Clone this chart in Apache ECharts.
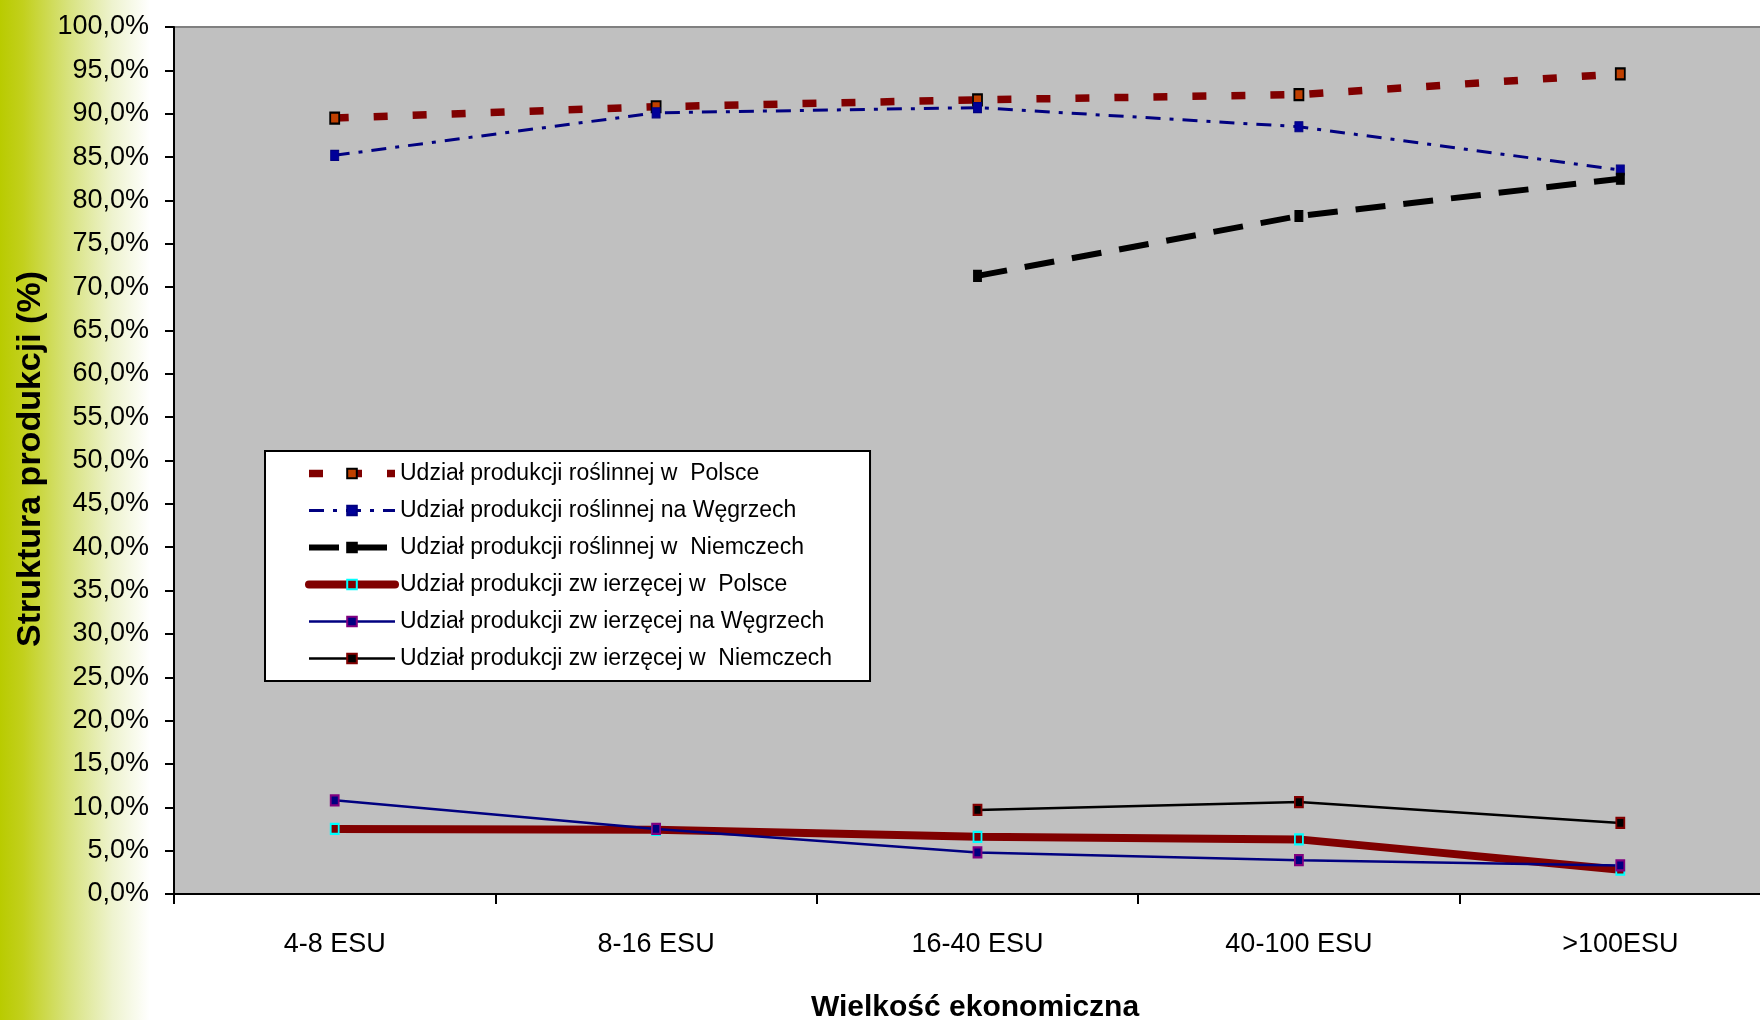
<!DOCTYPE html>
<html>
<head>
<meta charset="utf-8">
<script src="https://cdn.jsdelivr.net/npm/echarts@6/dist/echarts.min.js"></script>
<style>
html,body{margin:0;padding:0;background:#fff;overflow:hidden;width:1760px;height:1020px;}
#c{width:1781px;height:1020px;}
</style>
</head>
<body>
<div id="c"></div>
<script>
const categories = ['4-8 ESU', '8-16 ESU', '16-40 ESU', '40-100 ESU', '>100ESU'];
const plPlant = [89.5, 90.8, 91.6, 92.2, 94.6];
const huPlant = [85.2, 90.1, 90.7, 88.5, 83.5];
const dePlant = [null, null, 71.3, 78.2, 82.5];
const plAnimal = [7.5, 7.4, 6.6, 6.3, 2.8];
const huAnimal = [10.8, 7.5, 4.8, 3.9, 3.3];
const deAnimal = [null, null, 9.7, 10.6, 8.2];
const seriesNames = [
  'Udział produkcji roślinnej w  Polsce',
  'Udział produkcji roślinnej na Węgrzech',
  'Udział produkcji roślinnej w  Niemczech',
  'Udział produkcji zw ierzęcej w  Polsce',
  'Udział produkcji zw ierzęcej na Węgrzech',
  'Udział produkcji zw ierzęcej w  Niemczech'
];
const yTitle = 'Struktura produkcji (%)';
const xTitle = 'Wielkość ekonomiczna';

const FONT = 'Liberation Sans, Arial, sans-serif';
const chart = echarts.init(document.getElementById('c'), null, {renderer: 'canvas'});

function mk(name, data, line, sym) {
  return {
    name: name, type: 'line', data: data,
    symbol: 'rect', symbolSize: sym.size,
    showSymbol: true,
    itemStyle: {color: sym.fill, borderColor: sym.border, borderWidth: sym.bw},
    lineStyle: line,
    emphasis: {disabled: true},
    connectNulls: false
  };
}

chart.setOption({
  animation: false,
  graphic: [
    {
      type: 'rect', z: -10, silent: true,
      shape: {x: 0, y: 0, width: 150, height: 1020},
      style: {
        fill: new echarts.graphic.LinearGradient(0, 0, 1, 0, [
          {offset: 0, color: '#B9CB00'},
          {offset: 0.15, color: '#C2D01C'},
          {offset: 0.45, color: '#D7E27C'},
          {offset: 0.75, color: '#EEF3CF'},
          {offset: 1, color: '#FFFFFF'}
        ])
      }
    },
    {
      type: 'text', x: 31, y: 459, rotation: Math.PI / 2, z: 10,
      style: {
        text: yTitle, fill: '#000',
        font: 'bold 34px ' + FONT,
        align: 'center', verticalAlign: 'middle',
        textAlign: 'center', textVerticalAlign: 'middle'
      }
    },
    {
      type: 'text', x: 975, y: 1008, z: 10,
      style: {
        text: xTitle, fill: '#000',
        font: 'bold 30px ' + FONT,
        align: 'center', verticalAlign: 'middle',
        textAlign: 'center', textVerticalAlign: 'middle'
      }
    }
  ],
  grid: {
    left: 174, top: 27, right: 0, bottom: 126,
    show: true, backgroundColor: '#C0C0C0', borderColor: '#808080', borderWidth: 2,
    containLabel: false
  },
  legend: {
    orient: 'vertical', left: 265, top: 451,
    backgroundColor: '#FFFFFF', borderColor: '#000', borderWidth: 2, borderRadius: 0,
    padding: [10, 38, 10, 40],
    itemWidth: 86, itemHeight: 12, itemGap: 12,
    itemTextGap: 5,
    selectedMode: false,
    lineStyle: {width: 'inherit'},
    textStyle: {fontFamily: FONT, fontSize: 23, color: '#000', lineHeight: 25},
    data: seriesNames
  },
  xAxis: {
    type: 'category', data: categories, boundaryGap: true,
    axisLine: {show: true, lineStyle: {color: '#000', width: 2}},
    axisTick: {show: true, length: 10, lineStyle: {color: '#000', width: 2}},
    axisLabel: {fontFamily: FONT, fontSize: 27, color: '#000', margin: 37},
    splitLine: {show: false}
  },
  yAxis: {
    type: 'value', min: 0, max: 100, interval: 5,
    axisLine: {show: true, lineStyle: {color: '#000', width: 2}},
    axisTick: {show: true, length: 9, lineStyle: {color: '#000', width: 2}},
    axisLabel: {
      fontFamily: FONT, fontSize: 27, color: '#000', margin: 25,
      formatter: function (v) { return v.toFixed(1).replace('.', ',') + '%'; }
    },
    splitLine: {show: false}
  },
  series: [
    mk(seriesNames[0], plPlant, {color: '#800000', width: 7.5, type: [14, 25], cap: 'butt'},
       {size: [9, 11], fill: '#C04000', border: '#000000', bw: 2}),
    mk(seriesNames[1], huPlant, {color: '#000080', width: 3, type: [15, 9, 4, 9], cap: 'butt'},
       {size: [8, 10], fill: '#000099', border: '#000080', bw: 1}),
    mk(seriesNames[2], dePlant, {color: '#000000', width: 6, type: [30, 18], cap: 'butt'},
       {size: [8, 11], fill: '#000000', border: '#000000', bw: 1}),
    mk(seriesNames[3], plAnimal, {color: '#800000', width: 8, type: 'solid', cap: 'round'},
       {size: [8, 10], fill: '#800000', border: '#00FFFF', bw: 2}),
    mk(seriesNames[4], huAnimal, {color: '#000080', width: 2.5, type: 'solid'},
       {size: [8, 10], fill: '#000080', border: '#800080', bw: 2}),
    mk(seriesNames[5], deAnimal, {color: '#000000', width: 2.5, type: 'solid'},
       {size: [8, 10], fill: '#000000', border: '#800000', bw: 2})
  ]
});
</script>
</body>
</html>
